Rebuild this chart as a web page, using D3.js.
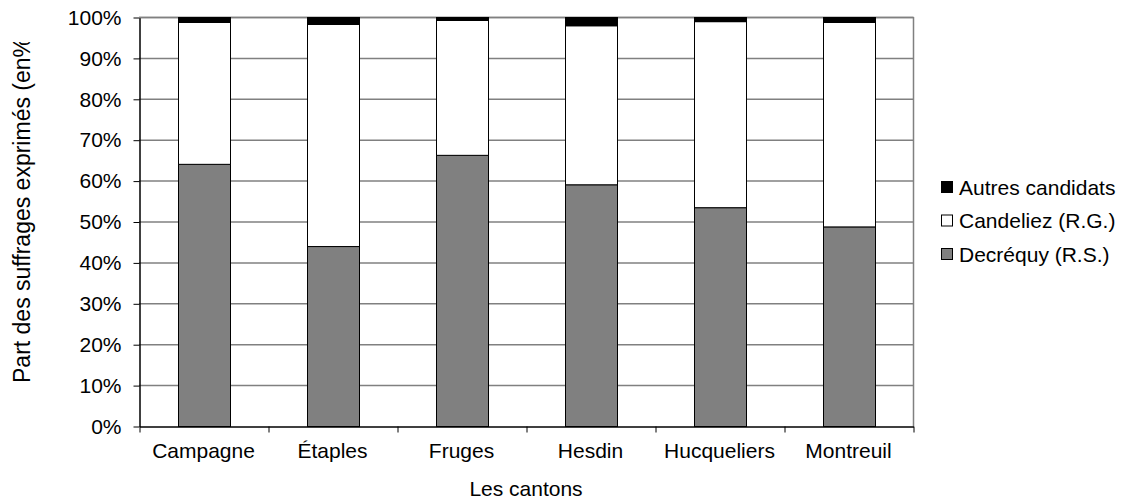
<!DOCTYPE html>
<html lang="fr">
<head>
<meta charset="UTF-8">
<title>Part des suffrages exprimés par canton</title>
<script src="https://d3js.org/d3.v7.min.js"></script>
<style>
  body { margin: 0; background: #fff; }
  text { font-family: "Liberation Sans", Arial, sans-serif; fill: #000; }
</style>
</head>
<body>
<script>

// data (percent of votes cast)
var cantons = ["Campagne", "Étaples", "Fruges", "Hesdin", "Hucqueliers", "Montreuil"];
var decrequy = [64.1, 44.0, 66.3, 59.1, 53.5, 48.8];
var candeliez = [34.7, 54.3, 33.0, 38.9, 45.5, 50.0];
var autres = [1.2, 1.7, 0.7, 2.0, 1.0, 1.2];
var seriesNames = ["Decréquy (R.S.)", "Candeliez (R.G.)", "Autres candidats"];
var seriesColors = ["#808080", "#ffffff", "#000000"];
var yTicks = [0, 10, 20, 30, 40, 50, 60, 70, 80, 90, 100];

var W = 1124, H = 503;
var plot = {left: 139, right: 913, top: 17, bottom: 426};
var fs = 21;

var svg = d3.select("body").append("svg")
    .attr("width", W)
    .attr("height", H);

// build rows for the stack
var keys = ["decrequy", "candeliez", "autres"];
var rows = cantons.map(function(c, i) {
  return {canton: c, decrequy: decrequy[i], candeliez: candeliez[i], autres: autres[i]};
});

var x = d3.scaleBand()
    .domain(cantons)
    .range([plot.left, plot.right])
    .paddingInner(0.6)
    .paddingOuter(0.3);

// category boundaries for the tick marks
var xEdge = d3.scaleLinear()
    .domain([0, cantons.length])
    .range([plot.left, plot.right]);

var y = d3.scaleLinear()
    .domain([0, 100])
    .range([plot.bottom, plot.top]);

// gridlines
svg.append("g")
  .selectAll("line")
  .data(yTicks.filter(function(d) { return d > 0; }))
  .enter().append("line")
    .attr("x1", plot.left)
    .attr("x2", plot.right)
    .attr("y1", function(d) { return y(d) + 0.5; })
    .attr("y2", function(d) { return y(d) + 0.5; })
    .attr("stroke", "#808080")
    .attr("stroke-width", 1.5);

// right border
svg.append("line")
    .attr("x1", plot.right + 0.5).attr("x2", plot.right + 0.5)
    .attr("y1", plot.top).attr("y2", plot.bottom)
    .attr("stroke", "#808080")
    .attr("stroke-width", 1.5);

// bars
var stacked = d3.stack().keys(keys)(rows);

svg.append("g")
  .selectAll("g")
  .data(stacked)
  .enter().append("g")
    .attr("fill", function(d, i) { return seriesColors[i]; })
  .selectAll("rect")
  .data(function(d) { return d; })
  .enter().append("rect")
    .attr("x", function(d) { return Math.round(x(d.data.canton)) + 0.5; })
    .attr("y", function(d) { return y(d[1]) + 0.5; })
    .attr("width", Math.round(x.bandwidth()))
    .attr("height", function(d) { return y(d[0]) - y(d[1]); })
    .attr("stroke", "#000")
    .attr("stroke-width", 1);

// y axis
var yAxis = svg.append("g")
    .attr("transform", "translate(" + (plot.left + 0.5) + ",0.5)")
    .call(d3.axisLeft(y)
      .tickValues(yTicks)
      .tickFormat(function(d) { return d + "%"; })
      .tickSize(6)
      .tickPadding(12)
      .tickSizeOuter(0));
yAxis.select(".domain").attr("stroke", "#000").attr("stroke-width", 1.5);
yAxis.selectAll(".tick line").attr("stroke", "#000");
yAxis.selectAll("text")
    .attr("font-size", fs)
    .attr("font-family", "Liberation Sans, Arial, sans-serif")
    .attr("fill", "#000");

// x axis: labels centered on bars, ticks on category edges
var xAxis = svg.append("g")
    .attr("transform", "translate(0," + (plot.bottom + 0.5) + ")")
    .call(d3.axisBottom(x).tickSize(0).tickPadding(17));
xAxis.select(".domain").remove();
xAxis.selectAll("text")
    .attr("font-size", fs)
    .attr("font-family", "Liberation Sans, Arial, sans-serif")
    .attr("fill", "#000");

var xEdges = svg.append("g")
    .attr("transform", "translate(0.5," + (plot.bottom + 0.5) + ")")
    .call(d3.axisBottom(xEdge)
      .tickValues(d3.range(0, cantons.length + 1))
      .tickSize(6)
      .tickSizeOuter(0)
      .tickFormat(""));
xEdges.select(".domain").attr("stroke", "#000").attr("stroke-width", 1.5);
xEdges.selectAll(".tick line").attr("stroke", "#000");

// top border drawn last so it sits above bars
svg.append("line")
    .attr("x1", plot.left).attr("x2", plot.right + 1)
    .attr("y1", plot.top + 0.5).attr("y2", plot.top + 0.5)
    .attr("stroke", "#808080")
    .attr("stroke-width", 1.5);

// redraw the black caps on top of the border
svg.append("g")
  .selectAll("rect")
  .data(stacked[2])
  .enter().append("rect")
    .attr("x", function(d) { return Math.round(x(d.data.canton)) + 0.5; })
    .attr("y", function(d) { return y(d[1]) + 0.5; })
    .attr("width", Math.round(x.bandwidth()))
    .attr("height", function(d) { return y(d[0]) - y(d[1]); })
    .attr("fill", "#000")
    .attr("stroke", "#000");

// axis titles
svg.append("text")
    .attr("x", (plot.left + plot.right) / 2)
    .attr("y", 496)
    .attr("text-anchor", "middle")
    .attr("font-size", fs)
    .text("Les cantons");

// y title is cut off at the top in the original
svg.append("clipPath")
    .attr("id", "ytitle-clip")
  .append("rect")
    .attr("x", 0).attr("y", 42)
    .attr("width", 60).attr("height", 420);

svg.append("g")
    .attr("clip-path", "url(#ytitle-clip)")
  .append("text")
    .attr("transform", "translate(30,383) rotate(-90)")
    .attr("text-anchor", "start")
    .attr("font-size", 23)
    .text("Part des suffrages exprimés (en%)");

// legend, top entry is the top of the stack
var legendOrder = [2, 1, 0];
var legend = svg.append("g")
  .selectAll("g")
  .data(legendOrder)
  .enter().append("g")
    .attr("transform", function(d, i) { return "translate(941," + (187 + i * 33.5) + ")"; });

legend.append("rect")
    .attr("x", 0.5).attr("y", -5.5)
    .attr("width", 11).attr("height", 11)
    .attr("fill", function(d) { return seriesColors[d]; })
    .attr("stroke", "#000");

legend.append("text")
    .attr("x", 18)
    .attr("y", 7.5)
    .attr("font-size", fs)
    .text(function(d) { return seriesNames[d]; });

</script>
</body>
</html>
